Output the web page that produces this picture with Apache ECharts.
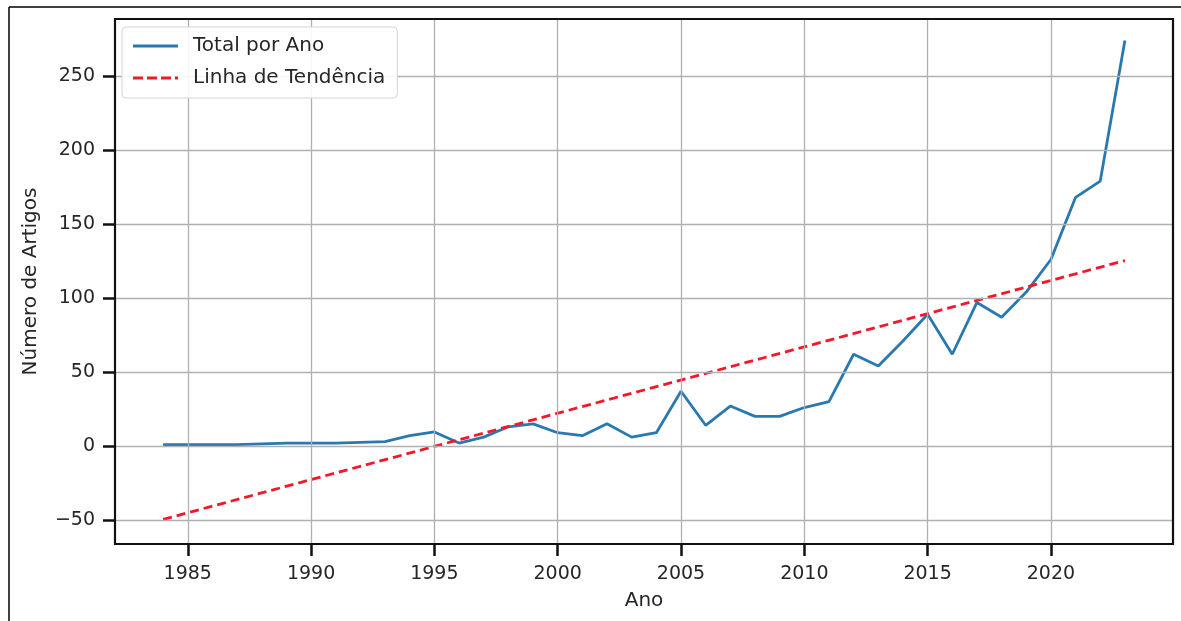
<!DOCTYPE html>
<html>
<head>
<meta charset="utf-8">
<script src="https://cdn.jsdelivr.net/npm/echarts@6/dist/echarts.min.js"></script>
<style>
html,body{margin:0;padding:0;background:#fff;}
#c{width:1181px;height:621px;}
</style>
</head>
<body>
<div id="c"></div>
<script>
const years = [1984,1985,1986,1987,1988,1989,1990,1991,1992,1993,1994,1995,1996,1997,1998,1999,2000,2001,2002,2003,2004,2005,2006,2007,2008,2009,2010,2011,2012,2013,2014,2015,2016,2017,2018,2019,2020,2021,2022,2023];
const totals = [1,1,1,1,1.5,2,2,2,2.5,3,7,9.5,2,6,13,15,9,7,15,6,9,37,14,27,20,20,26,30,62,54,71,89,62,97,87,104,126,168,179,274];
const trendYears = [1984, 2023];
const trendValues = [-49.6, 125.3];
const xTicks = [1985,1990,1995,2000,2005,2010,2015,2020];
const yTicks = [-50,0,50,100,150,200,250];

const font = 'DejaVu Sans';
const totalData = years.map((y,i)=>[y, totals[i]]);
const trendData = trendYears.map((y,i)=>[y, trendValues[i]]);

const gridStyle = {color:'#b0b0b0', width:1.3, type:'solid'};
const gridLines = xTicks.map(v=>({xAxis:v})).concat(yTicks.map(v=>({yAxis:v})));

const chart = echarts.init(document.getElementById('c'), null, {renderer:'canvas'});
chart.setOption({
  animation:false,
  backgroundColor:'#fff',
  grid:{left:115, right:8, top:19, bottom:77, containLabel:false},
  legend:{
    orient:'vertical', left:122, top:27, z:50,
    data:[
      {name:'Total por Ano', icon:'path://M0,0H45V3H0Z'},
      {name:'Linha de Tendência', icon:'path://M0,0H10V3H0Z M14,0H24V3H14Z M28,0H38V3H28Z M42,0H45V3H42Z'}
    ],
    itemWidth:45, itemHeight:3, itemGap:12,
    padding:[9,12,10,11],
    borderColor:'#d5d5d5', borderWidth:1, borderRadius:4,
    backgroundColor:'rgba(255,255,255,0.9)',
    textStyle:{fontFamily:font, fontSize:20, color:'#262626', padding:[0,0,0,10]}
  },
  xAxis:{
    type:'value', min:1982.05, max:2024.95,
    name:'Ano', nameLocation:'middle', nameGap:47,
    nameTextStyle:{fontFamily:font, fontSize:20, color:'#262626'},
    axisLine:{show:true, onZero:false, lineStyle:{color:'#111', width:2}},
    axisTick:{show:true, customValues:xTicks, length:12, lineStyle:{color:'#111', width:2.5}},
    axisLabel:{customValues:xTicks, fontFamily:font, fontSize:19, color:'#262626', margin:21,
      formatter:v=>String(Math.round(v))},
    splitLine:{show:false}
  },
  yAxis:{
    type:'value', min:-66.2, max:288.5,
    name:'Número de Artigos', nameLocation:'middle', nameGap:74,
    nameTextStyle:{fontFamily:font, fontSize:20, color:'#262626'},
    axisLine:{show:true, onZero:false, lineStyle:{color:'#111', width:2}},
    axisTick:{show:true, customValues:yTicks, length:12, lineStyle:{color:'#111', width:2.5}},
    axisLabel:{customValues:yTicks, fontFamily:font, fontSize:19, color:'#262626', margin:20,
      formatter:v=>String(Math.round(v)).replace('-', '\u2212')},
    splitLine:{show:false}
  },
  graphic:[
    {type:'rect', shape:{x:115, y:19, width:1058, height:525}, style:{fill:'none', stroke:'#111', lineWidth:2.2}, z:100, silent:true},
    {type:'line', shape:{x1:9, y1:7, x2:1181, y2:7}, style:{stroke:'#000', lineWidth:1.5}, silent:true},
    {type:'line', shape:{x1:9, y1:7, x2:9, y2:621}, style:{stroke:'#000', lineWidth:1.5}, silent:true}
  ],
  series:[
    {
      name:'grid', type:'line', data:[], z:1, silent:true,
      markLine:{silent:true, symbol:['none','none'], label:{show:false}, lineStyle:gridStyle, data:gridLines, animation:false}
    },
    {
      name:'Total por Ano', type:'line', data:totalData, z:3,
      showSymbol:false, symbol:'none',
      color:'#2a78b0',
      lineStyle:{color:'#2a78b0', width:2.8}
    },
    {
      name:'Linha de Tendência', type:'line', data:trendData, z:4,
      showSymbol:false, symbol:'none',
      color:'#f2182a',
      lineStyle:{color:'#f2182a', width:2.8, type:[9,5]}
    }
  ]
});
</script>
</body>
</html>
